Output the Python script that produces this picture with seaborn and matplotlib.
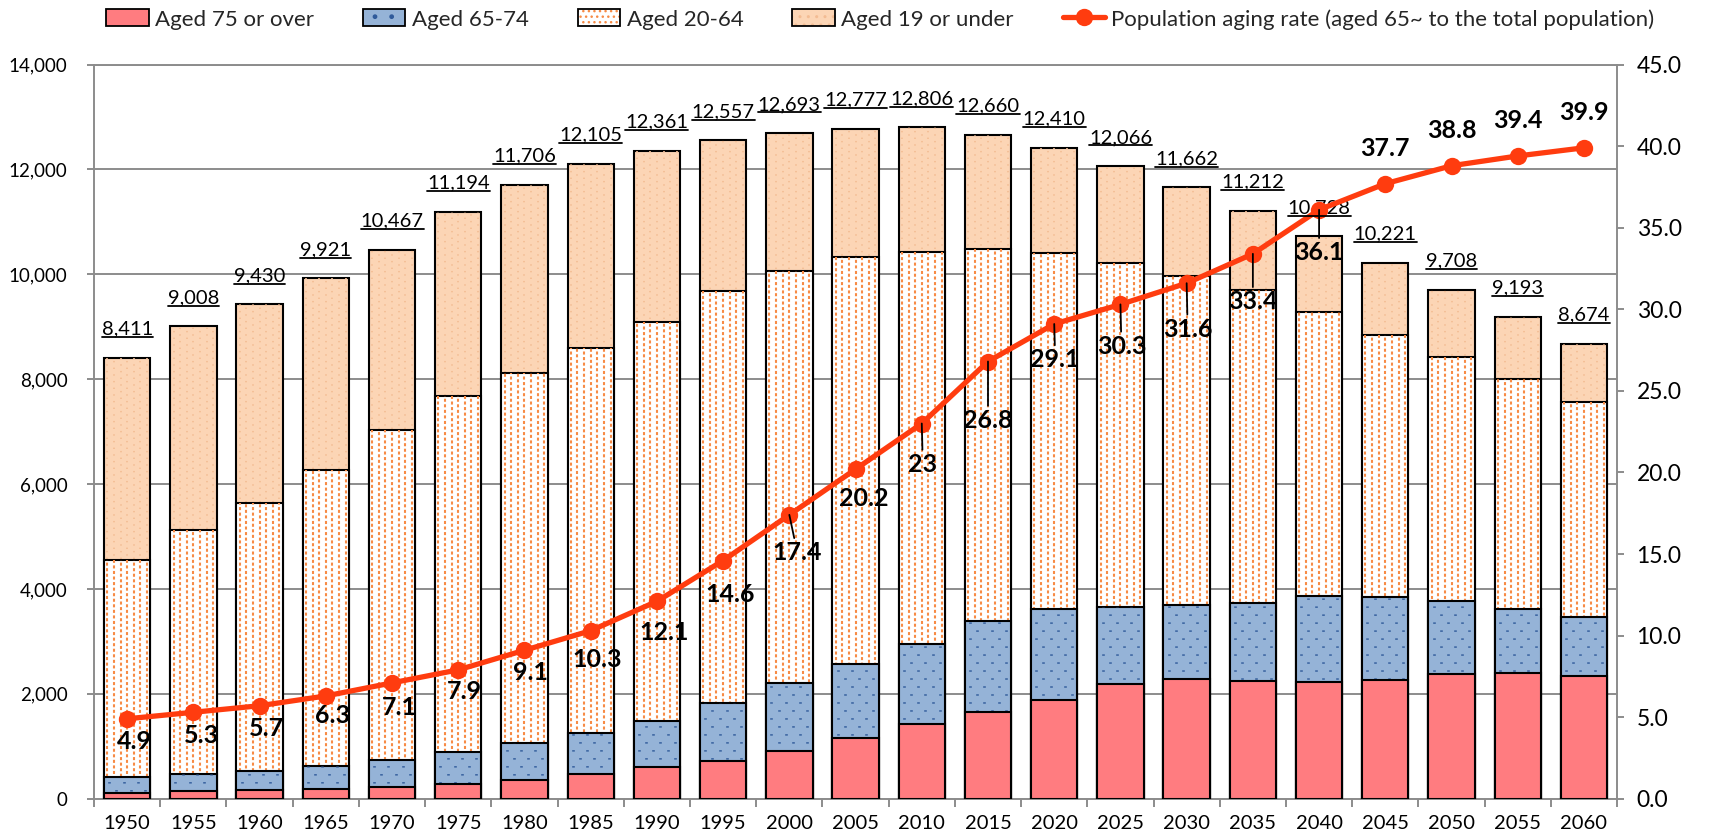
import numpy as np
import matplotlib
matplotlib.use("Agg")
import matplotlib.pyplot as plt
import seaborn as sns
from matplotlib.patches import Patch
from matplotlib.lines import Line2D
from matplotlib.collections import LineCollection
from matplotlib.legend_handler import HandlerTuple
from matplotlib.ticker import FuncFormatter

# Population by age group (unit: 10,000 people) and aging rate (%)
years = [1950, 1955, 1960, 1965, 1970, 1975, 1980, 1985, 1990, 1995, 2000, 2005,
         2010, 2015, 2020, 2025, 2030, 2035, 2040, 2045, 2050, 2055, 2060]
total = [8411, 9008, 9430, 9921, 10467, 11194, 11706, 12105, 12361, 12557, 12693, 12777,
         12806, 12660, 12410, 12066, 11662, 11212, 10728, 10221, 9708, 9193, 8674]
aged_75_over = [106, 139, 163, 189, 224, 284, 366, 471, 597, 717, 901, 1164,
                1419, 1646, 1879, 2179, 2278, 2245, 2223, 2257, 2385, 2401, 2336]
aged_65_74 = [305, 336, 372, 435, 515, 603, 699, 776, 892, 1109, 1303, 1412,
              1529, 1749, 1733, 1478, 1407, 1496, 1645, 1599, 1383, 1225, 1128]
aged_20_64 = [4144, 4645, 5114, 5641, 6297, 6791, 7052, 7347, 7601, 7855, 7867, 7748,
              7472, 7095, 6795, 6566, 6290, 5954, 5413, 4980, 4648, 4370, 4107]
aged_19_under = [3856, 3888, 3781, 3656, 3431, 3516, 3589, 3511, 3271, 2876, 2622, 2453,
                 2386, 2170, 2003, 1843, 1687, 1517, 1447, 1385, 1292, 1197, 1103]
aging_rate = [4.9, 5.3, 5.7, 6.3, 7.1, 7.9, 9.1, 10.3, 12.1, 14.6, 17.4, 20.2,
              23.0, 26.8, 29.1, 30.3, 31.6, 33.4, 36.1, 37.7, 38.8, 39.4, 39.9]
legend_labels = ["Aged 75 or over", "Aged 65-74", "Aged 20-64", "Aged 19 or under",
                 "Population aging rate (aged 65~ to the total population)"]

# Label offsets for the aging-rate values, in pixels (right, down)
rate_label_offsets = [(7, 23), (8, 23), (7, 23), (7, 20), (7, 25), (6, 22), (6, 22), (6, 29),
                      (7, 31), (7, 34), (8, 38), (8, 29), (1, 41), (0, 59), (1, 36), (1, 42),
                      (1, 46), (0, 48), (0, 43), (0, -35), (0, -35), (0, -35), (0, -35)]

C_75 = "#FF7C80"
C_6574 = "#95B3D7"
C_6574_DOT = "#2F5A9A"
C_2064_DOT = "#F78B45"
C_19 = "#FCD5B5"
C_19_DOT = "#F3BC93"
C_LINE = "#FF3C0F"
C_GRID = "#8C8C8C"

sns.set_theme(style="white")
plt.rcParams["font.family"] = ["Lato", "DejaVu Sans"]
plt.rcParams["lines.scale_dashes"] = False

fig = plt.figure(figsize=(17.13, 8.39), dpi=100)
ax = fig.add_axes([0.0549, 0.048, 0.8891, 0.875])

labels = [str(y) for y in years]
a75 = np.array(aged_75_over)
cum_65 = a75 + np.array(aged_65_74)
cum_20 = cum_65 + np.array(aged_20_64)
cum_all = cum_20 + np.array(aged_19_under)


def bar_layer(values, face, z):
    start = len(ax.patches)
    sns.barplot(x=labels, y=values, color=face, saturation=1, width=0.7, errorbar=None,
                ax=ax, zorder=z, edgecolor="black", linewidth=1.5)
    return ax.patches[start:]


def texture(patches, dxs, color, lw, on, off, stagger, z):
    for p in patches:
        cx = p.get_x() + p.get_width() / 2
        top = p.get_y() + p.get_height()
        segs, styles = [], []
        for i, dx in enumerate(dxs):
            segs.append([(cx + dx, 0), (cx + dx, top)])
            styles.append((stagger if i % 2 else 0.0, (on, off)))
        lc = LineCollection(segs, colors=color, linewidths=lw, linestyles=styles, zorder=z)
        lc.set_clip_path(p)
        ax.add_collection(lc, autolim=False)


p19 = bar_layer(cum_all, C_19, 2)
texture(p19, np.arange(-0.3, 0.31, 0.1), C_19_DOT, 1.2, 1.0, 3.8, 2.4, 2.1)
p20 = bar_layer(cum_20, "white", 3)
texture(p20, np.arange(-0.3, 0.31, 0.1), C_2064_DOT, 1.5, 2.2, 1.8, 2.0, 3.1)
p65 = bar_layer(cum_65, C_6574, 4)
texture(p65, np.array([-0.27, -0.162, -0.054, 0.054, 0.162, 0.27]), C_6574_DOT, 1.9, 1.0, 10.5, 5.75, 4.1)
bar_layer(a75, C_75, 5)

ax.set_xlim(-0.5, len(years) - 0.5)
ax.set_ylim(0, 14000)
ax.set_yticks(np.arange(0, 14001, 2000))
ax.yaxis.set_major_formatter(FuncFormatter(lambda v, _: f"{int(v):,}"))
ax.set_xlabel("")
ax.set_ylabel("")
ax.yaxis.grid(True, color=C_GRID, linewidth=1.4)
ax.set_axisbelow(True)
for side in ["left", "bottom", "top"]:
    ax.spines[side].set_visible(True)
    ax.spines[side].set_color(C_GRID)
    ax.spines[side].set_linewidth(1.4)
ax.spines["right"].set_visible(False)
ax.set_xticks(np.arange(-0.5, len(years), 1), minor=True)
ax.tick_params(axis="x", which="major", length=0, pad=12, labelsize=14.5, colors="black")
ax.tick_params(axis="x", which="minor", length=6, width=1.4, color=C_GRID, direction="out",
               bottom=True)
ax.tick_params(axis="y", which="major", length=5, width=1.4, color=C_GRID, direction="out",
               left=True, pad=14, labelsize=13.5, labelcolor="black")

# Population totals above each bar
total_texts = []
for i, t in enumerate(total):
    total_texts.append(ax.annotate(f"{t:,}", xy=(i, cum_all[i]), xytext=(0, 14.5),
                                   textcoords="offset points", ha="center", va="bottom",
                                   fontsize=14.5, color="black", zorder=7))

# Aging rate line on the secondary axis
ax2 = ax.twinx()
sns.lineplot(x=np.arange(len(years)), y=aging_rate, ax=ax2, color=C_LINE, linewidth=3.8,
             marker="o", markersize=12.5, markeredgewidth=0, zorder=4)
ax2.set_ylim(0, 45)
ax2.set_yticks(np.arange(0, 45.1, 5))
ax2.yaxis.set_major_formatter(FuncFormatter(lambda v, _: f"{v:.1f}"))
ax2.set_xlim(-0.5, len(years) - 0.5)
ax2.set_ylabel("")
ax2.grid(False)
for side in ["left", "bottom", "top"]:
    ax2.spines[side].set_visible(False)
ax2.spines["right"].set_visible(True)
ax2.spines["right"].set_color(C_GRID)
ax2.spines["right"].set_linewidth(1.4)
ax2.tick_params(axis="y", length=5, width=1.4, color=C_GRID, direction="out", right=True,
                pad=9, labelsize=16.5, labelcolor="black")

for i, r in enumerate(aging_rate):
    dx, dy = rate_label_offsets[i]
    props = None
    if dy >= 36:
        props = dict(arrowstyle="-", color="black", lw=1.3, shrinkA=0, shrinkB=0)
    ax2.annotate(f"{r:g}", xy=(i, r), xytext=(dx * 0.72, -dy * 0.72),
                 textcoords="offset points", ha="center", va="center", fontsize=18,
                 fontweight="bold", color="black", arrowprops=props, zorder=6)

# Legend
outline = dict(fill=False, edgecolor="black", linewidth=1.3)
handles = [
    Patch(facecolor=C_75, edgecolor="black", linewidth=1.3),
    (Patch(facecolor=C_6574, hatch=".", edgecolor=C_6574_DOT, linewidth=0), Patch(**outline)),
    (Patch(facecolor="white", hatch="...", edgecolor=C_2064_DOT, linewidth=0), Patch(**outline)),
    (Patch(facecolor=C_19, hatch="..", edgecolor=C_19_DOT, linewidth=0), Patch(**outline)),
    Line2D([], [], color=C_LINE, linewidth=3.8, marker="o", markersize=12.5, markeredgewidth=0),
]
fig.legend(handles, legend_labels, loc="center", bbox_to_anchor=(0.514, 0.977), ncol=5,
           frameon=False, fontsize=16, handlelength=1.9, handleheight=0.8,
           handletextpad=0.3, columnspacing=2.2,
           handler_map={tuple: HandlerTuple(ndivide=1, pad=0)})

# Underline the totals
fig.canvas.draw()
renderer = fig.canvas.get_renderer()
to_fig = fig.transFigure.inverted()
for tt in total_texts:
    bb = tt.get_window_extent(renderer)
    y = bb.y0 + 0.5
    (x0, yf), (x1, _) = to_fig.transform([(bb.x0, y), (bb.x1, y)])
    fig.add_artist(Line2D([x0, x1], [yf, yf], transform=fig.transFigure, color="black",
                          linewidth=1.3))

fig.savefig("out.png", dpi=100)
